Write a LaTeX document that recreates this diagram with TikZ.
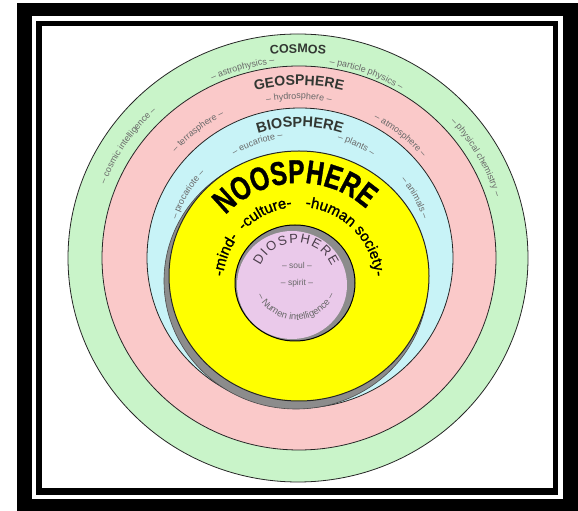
\documentclass[tikz,border=0pt]{standalone}
\usepackage{fontspec}
\setmainfont{Liberation Sans}
\newfontfamily\noofont[FakeStretch=0.74,FakeBold=1,UprightFont={* Bold}]{Liberation Sans}
\newfontfamily\mindfont[FakeBold=1.2]{Liberation Sans}
\usetikzlibrary{decorations.text}
\definecolor{cosg}{RGB}{201,244,201}
\definecolor{geop}{RGB}{250,201,201}
\definecolor{biob}{RGB}{200,243,247}
\definecolor{yel}{RGB}{255,255,0}
\definecolor{diop}{RGB}{234,201,234}
\definecolor{lblc}{RGB}{105,105,105}
\definecolor{ttlc}{RGB}{50,55,50}
\definecolor{diot}{RGB}{75,62,75}
\newcommand\lblfont{\fontsize{9}{10}\selectfont\color{lblc}}
\newcommand\ttlfont[1]{\fontsize{#1}{#1}\selectfont\bfseries\color{ttlc}}
\newcommand\arclbl[5]{%
  \pgfmathsetmacro\rxx{1.025*#2}%
  \path[decorate,decoration={text along path,text align=center,text={#5}}]
    (#1) ++(#3:\rxx\space and #2) arc[start angle=#3,end angle=#4,x radius=\rxx,y radius=#2];}
\newcommand\arclblc[5]{%
  \path[decorate,decoration={text along path,text align=center,text={#5}}]
    (#1) ++(#3:#2) arc[start angle=#3,end angle=#4,radius=#2];}
\tikzset{
  ring/.style={draw=black!85,line width=0.8pt},
  smalltext/.style={font=\fontsize{8.5}{9}\selectfont,text=lblc,inner sep=0pt}
}
\begin{document}
\begin{tikzpicture}[x=1pt,y=1pt]
\useasboundingbox (0,0) rectangle (578,511);
% frame
\fill[black] (17,0) rectangle (578,508);
\fill[white] (32,12) rectangle (563,495);
\fill[black] (36,16) rectangle (558,490);
\fill[white] (42,23) rectangle (553,485);
% spheres
\path[ring,fill=cosg] (298,253) ellipse [x radius=230,y radius=224];
\path[ring,fill=geop] (299,253) ellipse [x radius=197,y radius=192];
\path[ring,fill=biob] (300,253) ellipse [x radius=153,y radius=150];
\path[draw=black!70,line width=0.6pt,fill=black!45] (296,230) ellipse [x radius=132,y radius=128];
\path[ring,line width=1pt,fill=yel] (299,235) ellipse [x radius=130,y radius=125];
\path[draw=black,line width=1pt,fill=black!45] (295,228) ellipse [x radius=60,y radius=58];
\path[fill=diop] (292,226) ellipse [x radius=55,y radius=54];
% cosmos labels
\arclbl{298,253}{205}{115}{65}{|\ttlfont{12.5}|COSMOS}
\arclbl{298,253}{196}{126}{86}{|\lblfont|– astrophysics –}
\arclbl{298,253}{196}{94}{46}{|\lblfont|– particle physics –}
\arclbl{298,253}{202}{172}{120}{|\lblfont|– cosmic intelligence –}
\arclbl{298,253}{202}{56}{4}{|\lblfont|– physical chemistry –}
% geosphere labels
\arclbl{299,253}{173}{112}{68}{|\ttlfont{14}|GEOSPHERE}
\arclbl{299,253}{159}{106}{74}{|\lblfont|– hydrosphere –}
\arclbl{299,253}{160}{146}{110}{|\lblfont|– terrasphere –}
\arclbl{299,253}{157}{69}{33}{|\lblfont|– atmosphere –}
% biosphere labels
\arclbl{300,253}{131}{115}{65}{|\ttlfont{14.5}|BIOSPHERE}
\arclbl{300,253}{121}{130}{90}{|\lblfont|– eucariote –}
\arclbl{300,253}{124}{82}{46}{|\lblfont|– plants –}
\arclbl{300,253}{126}{176}{124}{|\lblfont|– procariote –}
\arclbl{300,253}{126}{52}{4}{|\lblfont|– animals –}
% noosphere
\arclblc{299,228}{100}{152}{33}{|\noofont\fontsize{33}{33}\selectfont|NOOSPHERE}
\arclblc{299,228}{76}{185}{133}{|\mindfont\fontsize{15}{15}\selectfont|-mind-}
\arclblc{299,228}{76}{140}{92}{|\mindfont\fontsize{15}{15}\selectfont|-culture-}
\arclblc{299,228}{76}{90}{0}{|\mindfont\fontsize{15}{15}\selectfont|-human society-}
% diosphere
\path[decorate,decoration={text along path,text align=fit to path,text={|\fontsize{13}{13}\selectfont\color{diot}|DIOSPHERE}}]
  (296,229) ++(156:39) arc[start angle=156,end angle=24,radius=39];
\node[smalltext] (soul) at (297,246) {– soul –};
\node[smalltext] (spirit) at (297,228) {– spirit –};
\arclblc{296,233}{42}{192}{348}{|\fontsize{9.5}{10}\selectfont\color{lblc}|– Numen intelligence –}
\end{tikzpicture}
\end{document}
